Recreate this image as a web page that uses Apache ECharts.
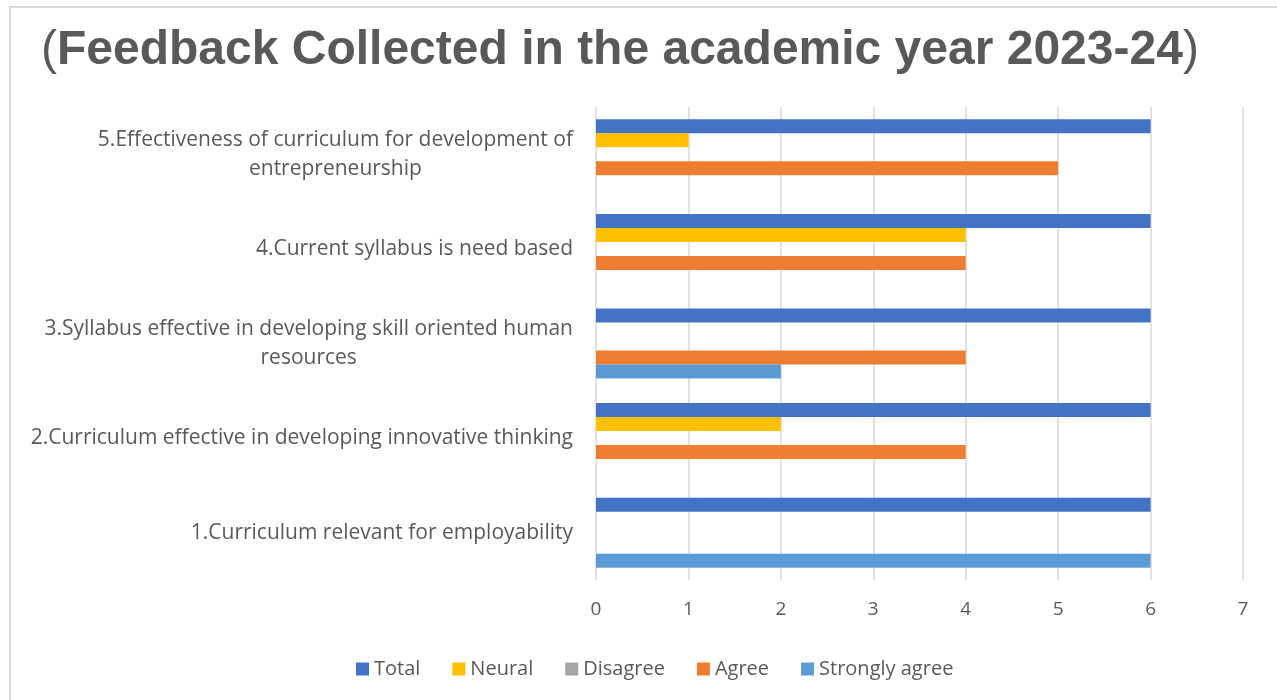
<!DOCTYPE html>
<html>
<head>
<meta charset="utf-8">
<script src="https://cdn.jsdelivr.net/npm/echarts@6/dist/echarts.min.js"></script>
<style>html,body{margin:0;padding:0;background:#fff;}#c{width:1277px;height:700px;}</style>
</head>
<body>
<div id="c"></div>
<script>
const categories = [
  "1.Curriculum relevant for employability",
  "2.Curriculum effective in developing innovative thinking",
  "3.Syllabus effective in developing skill oriented human\nresources",
  "4.Current syllabus is need based",
  "5.Effectiveness of curriculum for development of\nentrepreneurship"
];
const seriesNames = ["Total", "Neural", "Disagree", "Agree", "Strongly agree"];
const total = [6, 6, 6, 6, 6];
const neural = [0, 2, 0, 4, 1];
const disagree = [0, 0, 0, 0, 0];
const agree = [0, 4, 4, 4, 5];
const stronglyAgree = [6, 0, 2, 0, 0];
const xTicks = [0, 1, 2, 3, 4, 5, 6, 7];
const colors = {"Total": "#4472C4", "Neural": "#FFC000", "Disagree": "#A5A5A5", "Agree": "#ED7D31", "Strongly agree": "#5B9BD5"};
const values = [total, neural, disagree, agree, stronglyAgree];

const chart = echarts.init(document.getElementById('c'));
const font = '"Open Sans", Lato, sans-serif';
chart.setOption({
  animation: false,
  backgroundColor: '#fff',
  graphic: [{
    type: 'rect', shape: {x: 10, y: 7, width: 1300, height: 800},
    style: {fill: 'none', stroke: '#d9d9d9', lineWidth: 2}, silent: true
  }],
  title: {
    text: '{p|(}{b|Feedback Collected in the academic year 2023-24}{p|)}',
    left: 36, top: 22,
    textStyle: {
      rich: {
        p: {fontFamily: '"Liberation Sans", Arial, sans-serif', fontWeight: 'normal', fontSize: 48, color: '#595959'},
        b: {fontFamily: '"Liberation Sans", Arial, sans-serif', fontWeight: 'bold', fontSize: 48, color: '#595959'}
      }
    }
  },
  legend: {
    data: seriesNames, left: 351, top: 654, icon: 'rect', itemWidth: 13, itemHeight: 13, itemGap: 32,
    textStyle: {fontFamily: font, fontSize: 20, color: '#595959'}
  },
  grid: {left: 596, right: 34, top: 107, bottom: 120, containLabel: false},
  xAxis: {
    type: 'value', min: xTicks[0], max: xTicks[xTicks.length - 1], interval: 1,
    axisLine: {show: false}, axisTick: {show: false},
    axisLabel: {fontFamily: font, fontSize: 19, color: '#595959', margin: 20},
    splitLine: {show: true, lineStyle: {color: '#d9d9d9', width: 1.5}}
  },
  yAxis: {
    type: 'category', data: categories,
    axisLine: {show: false}, axisTick: {show: false},
    axisLabel: {
      margin: 23, fontFamily: font, fontSize: 21, color: '#595959', lineHeight: 29,
      formatter: function (v) { return v.split('\n').map(function (l) { return '{c|' + l + '}'; }).join('\n'); },
      rich: {c: {align: 'center', fontFamily: font, fontSize: 21, color: '#595959', lineHeight: 29}}
    }
  },
  series: seriesNames.map(function (n, i) {
    return {
      name: n, type: 'bar', data: values[i], barGap: '0%', barCategoryGap: '26%',
      itemStyle: {color: colors[n]}
    };
  })
});
</script>
</body>
</html>
